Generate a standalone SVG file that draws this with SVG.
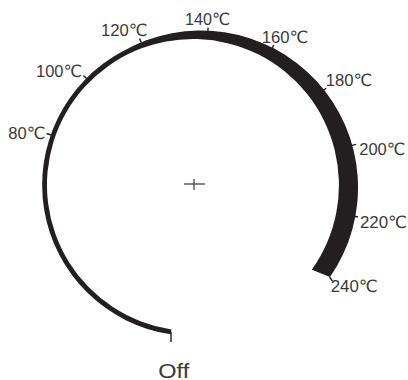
<svg xmlns="http://www.w3.org/2000/svg" width="408" height="380" viewBox="0 0 408 380">
<style>
.band{fill:#231f20}
.tick{stroke:#231f20;stroke-width:1.4;fill:none}
.lbl{font-family:"Liberation Sans","DejaVu Sans",sans-serif;font-size:17px;fill:#3a3a3a}
.off{font-family:"Liberation Sans","DejaVu Sans",sans-serif;font-size:19.5px;fill:#3a3a3a}
.cross{stroke:#444;stroke-width:1.3}
</style>
<rect width="408" height="380" fill="#fff"/>
<g id="dial">
<path class="band" d="M171.4,329.4 A146,146 0 1 1 311.8,269.8 L330,277 A157,157 0 0 0 122.35,51.6 A151,151 0 0 0 170.7,334.3 Z"/>
<line class="tick" x1="171" y1="332" x2="171" y2="342" stroke-width="2"/>
</g>
<g id="ticks">
<line class="tick" x1="50.8" y1="135" x2="46.6" y2="133.5"/>
<line class="tick" x1="86.6" y1="78.6" x2="83.4" y2="75.4"/>
<line class="tick" x1="141.2" y1="42.6" x2="139.6" y2="38.4"/>
<line class="tick" x1="207.8" y1="31.6" x2="208.1" y2="27.6"/>
<line class="tick" x1="271.8" y1="48.8" x2="273.8" y2="45"/>
<line class="tick" x1="322.8" y1="90.8" x2="326.2" y2="88.2"/>
<line class="tick" x1="351" y1="145.6" x2="356" y2="144.4"/>
<line class="tick" x1="354" y1="216.3" x2="358" y2="217"/>
<line class="tick" x1="329.5" y1="277" x2="332.5" y2="281"/>
</g>
<g id="center">
<line class="cross" x1="184" y1="184" x2="205" y2="184"/>
<line class="cross" x1="194" y1="179" x2="194" y2="190"/>
</g>
<g id="labels">
<text id="l80" class="lbl" x="8.3" y="138.5" textLength="37" lengthAdjust="spacingAndGlyphs">80℃</text>
<text id="l100" class="lbl" x="36" y="77" textLength="46" lengthAdjust="spacingAndGlyphs">100℃</text>
<text id="l120" class="lbl" x="101" y="36.3" textLength="46.5" lengthAdjust="spacingAndGlyphs">120℃</text>
<text id="l140" class="lbl" x="185" y="24.5" textLength="45" lengthAdjust="spacingAndGlyphs">140℃</text>
<text id="l160" class="lbl" x="261.7" y="43" textLength="46.5" lengthAdjust="spacingAndGlyphs">160℃</text>
<text id="l180" class="lbl" x="325.7" y="86.3" textLength="46.5" lengthAdjust="spacingAndGlyphs">180℃</text>
<text id="l200" class="lbl" x="359.3" y="155.3" textLength="46" lengthAdjust="spacingAndGlyphs">200℃</text>
<text id="l220" class="lbl" x="360" y="227.6" textLength="47" lengthAdjust="spacingAndGlyphs">220℃</text>
<text id="l240" class="lbl" x="330.7" y="292" textLength="47" lengthAdjust="spacingAndGlyphs">240℃</text>
<text id="loff" class="off" x="158.3" y="377.5" textLength="31" lengthAdjust="spacingAndGlyphs">Off</text>
</g>
</svg>
